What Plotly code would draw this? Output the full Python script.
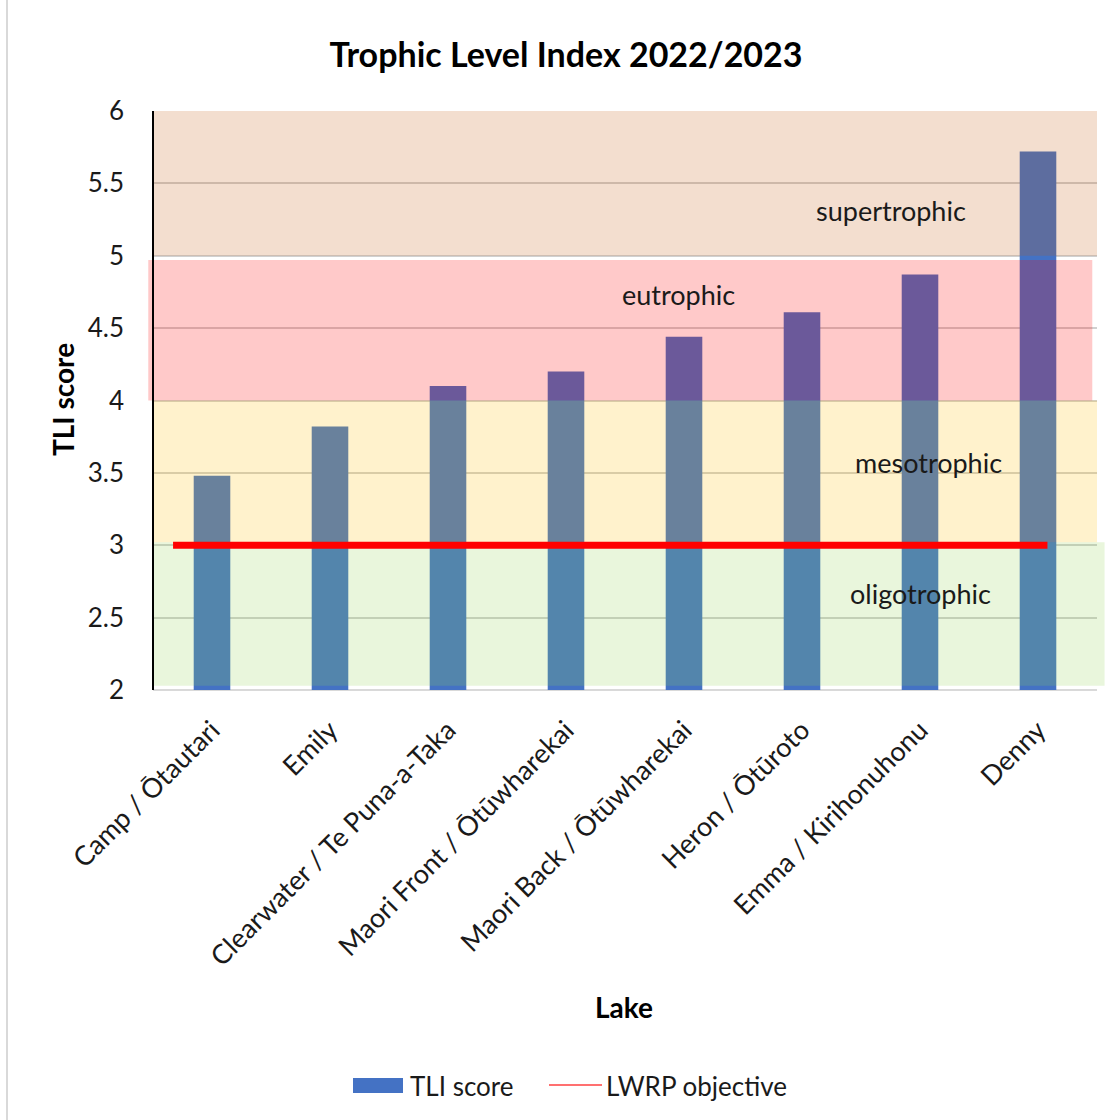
import plotly.graph_objects as go

# Lakes and their 2022/2023 Trophic Level Index scores
lakes = [
    "Camp / Ōtautari",
    "Emily",
    "Clearwater / Te Puna-a-Taka",
    "Maori Front / Ōtūwharekai",
    "Maori Back / Ōtūwharekai",
    "Heron / Ōtūroto",
    "Emma / Kirihonuhonu",
    "Denny",
]
tli_scores = [3.48, 3.82, 4.10, 4.20, 4.44, 4.61, 4.87, 5.72]

# LWRP objective for TLI
lwrp_objective = 3.0

# Trophic state bands: lower bound, upper bound, label
band_names = ["oligotrophic", "mesotrophic", "eutrophic", "supertrophic"]
band_lower = [2, 3, 4, 5]
band_upper = [3, 4, 5, 6]

y_ticks = [2, 2.5, 3, 3.5, 4, 4.5, 5, 5.5, 6]
y_tick_text = ["2", "2.5", "3", "3.5", "4", "4.5", "5", "5.5", "6"]

FONT = "Lato, 'Noto Sans', sans-serif"
BAR_BLUE = "#4472C4"
TEXT = "#1a1a1a"

# band styling (translucent washes drawn over the bars)
band_fill = {
    "oligotrophic": "rgba(146,208,80,0.2)",
    "mesotrophic": "rgba(255,192,0,0.2)",
    "eutrophic": "rgba(255,0,0,0.21)",
    "supertrophic": "rgba(197,90,17,0.2)",
}
# slight hand-placed offsets of each wash (x in paper units, y in data units)
band_geom = {
    "oligotrophic": dict(x0=0.0, x1=1.008, dy0=0.03, dy1=0.02),
    "mesotrophic": dict(x0=0.0, x1=1.0, dy0=0.02, dy1=0.0),
    "eutrophic": dict(x0=-0.005, x1=0.995, dy0=0.0, dy1=-0.03),
    "supertrophic": dict(x0=0.0, x1=1.0, dy0=0.0, dy1=0.0),
}
band_label_pos = {
    "oligotrophic": (6.0, 2.67),
    "mesotrophic": (6.07, 3.57),
    "eutrophic": (3.95, 4.73),
    "supertrophic": (5.75, 5.31),
}

# pixel -> paper helpers for the plot area (153..1097 x 111..690)
def px(x):
    return (x - 153) / 944


def py(y):
    return (690 - y) / 579


fig = go.Figure()

fig.add_trace(
    go.Bar(
        x=list(range(len(lakes))),
        y=[s - 2 for s in tli_scores],
        base=2,
        width=0.31,
        marker=dict(color=BAR_BLUE, line=dict(width=0)),
        name="TLI score",
        showlegend=False,
        hovertext=[f"{l}: {s}" for l, s in zip(lakes, tli_scores)],
        hoverinfo="text",
    )
)

shapes = []
annotations = []

for name, lo, hi in zip(band_names, band_lower, band_upper):
    g = band_geom[name]
    shapes.append(
        dict(
            type="rect", layer="above", xref="paper", yref="y",
            x0=g["x0"], x1=g["x1"], y0=lo + g["dy0"], y1=hi + g["dy1"],
            fillcolor=band_fill[name], line=dict(width=0),
        )
    )
    lx, ly = band_label_pos[name]
    annotations.append(
        dict(
            x=lx, y=ly, xref="x", yref="y", text=name, showarrow=False,
            xanchor="center", yanchor="middle",
            font=dict(family=FONT, size=27, color=TEXT),
        )
    )

# LWRP objective line
shapes.append(
    dict(
        type="line", layer="above", xref="x", yref="y",
        x0=-0.33, x1=7.08, y0=lwrp_objective, y1=lwrp_objective,
        line=dict(color="#FF0000", width=7),
    )
)

# axis lines
shapes.append(dict(type="line", layer="above", xref="paper", yref="paper",
                   x0=0, x1=0, y0=0, y1=1, line=dict(color="#000000", width=2)))
shapes.append(dict(type="line", layer="below", xref="paper", yref="paper",
                   x0=0, x1=1, y0=0, y1=0, line=dict(color="#D9D9D9", width=2)))

# chart frame (left edge)
shapes.append(dict(type="line", layer="below", xref="paper", yref="paper",
                   x0=px(7), x1=px(7), y0=py(1125), y1=py(-5),
                   line=dict(color="#D9D9D9", width=2)))

# legend drawn under the axis title
shapes.append(dict(type="rect", xref="paper", yref="paper",
                   x0=px(353), x1=px(403), y0=py(1093), y1=py(1078),
                   fillcolor=BAR_BLUE, line=dict(width=0)))
shapes.append(dict(type="line", xref="paper", yref="paper",
                   x0=px(549), x1=px(602), y0=py(1085), y1=py(1085),
                   line=dict(color="#FF4040", width=1.5)))
annotations.append(dict(x=px(408), y=py(1086), xref="paper", yref="paper",
                        xanchor="left", yanchor="middle", text="TLI score", showarrow=False,
                        font=dict(family=FONT, size=26, color=TEXT)))
annotations.append(dict(x=px(604), y=py(1086), xref="paper", yref="paper",
                        xanchor="left", yanchor="middle", text="LWRP objective", showarrow=False,
                        font=dict(family=FONT, size=26, color=TEXT)))

# axis titles
annotations.append(dict(x=px(63), y=py(400), xref="paper", yref="paper",
                        xanchor="center", yanchor="middle",
                        text="<b>TLI score</b>", textangle=-90, showarrow=False,
                        font=dict(family=FONT, size=28, color="#000000")))
annotations.append(dict(x=px(624), y=py(1007), xref="paper", yref="paper",
                        xanchor="center", yanchor="middle",
                        text="<b>Lake</b>", showarrow=False,
                        font=dict(family=FONT, size=28, color="#000000")))

fig.update_layout(
    width=1120,
    height=1120,
    margin=dict(l=153, r=23, t=111, b=430),
    paper_bgcolor="white",
    plot_bgcolor="white",
    title=dict(
        text="<b>Trophic Level Index 2022/2023</b>",
        x=566 / 1120, xanchor="center", xref="container",
        y=1 - 55 / 1120, yanchor="middle", yref="container",
        font=dict(family=FONT, size=34, color="#000000"),
    ),
    shapes=shapes,
    annotations=annotations,
    showlegend=False,
    bargap=0.69,
)

fig.update_xaxes(
    range=[-0.5, 7.5],
    tickmode="array",
    tickvals=list(range(len(lakes))),
    ticktext=lakes,
    tickangle=-45,
    tickfont=dict(family=FONT, size=27, color=TEXT),
    showgrid=False,
    showline=False,
    zeroline=False,
    ticks="",
    ticklabelstandoff=18,
)
fig.update_yaxes(
    range=[2, 6],
    tickmode="array",
    tickvals=y_ticks,
    ticktext=y_tick_text,
    tickfont=dict(family=FONT, size=26, color=TEXT),
    showgrid=True,
    gridcolor="#D0D0D0",
    gridwidth=2,
    showline=False,
    zeroline=False,
    ticks="",
    ticklabelstandoff=28,
)

fig.write_html("out.html")
